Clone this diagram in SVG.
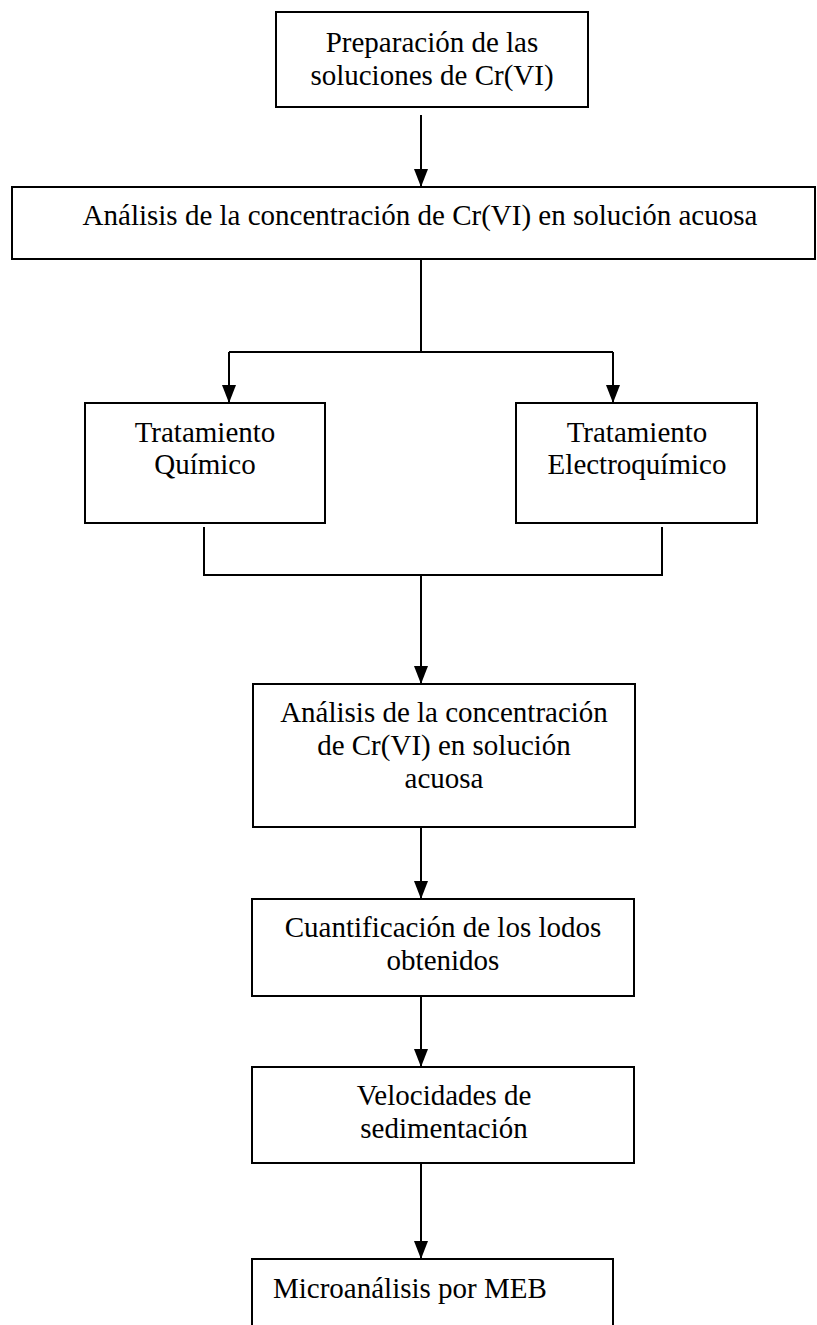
<svg xmlns="http://www.w3.org/2000/svg" width="817" height="1325" viewBox="0 0 817 1325">
<defs>
<marker id="ah" viewBox="0 0 18 14" refX="18" refY="7" markerWidth="18" markerHeight="14" markerUnits="userSpaceOnUse" orient="auto">
<path d="M0,0 L18,7 L0,14 z" fill="#000"/>
</marker>
<style>
.box{fill:#fff;stroke:#000;stroke-width:2}
.t{font-family:"Liberation Serif","Times New Roman",serif;font-size:29px;fill:#000}
.c{text-anchor:middle}
.ln{fill:none;stroke:#000;stroke-width:2}
</style>
</defs>
<rect width="817" height="1325" fill="#fff"/>
<g id="connectors">
<line class="ln" x1="421" y1="115" x2="421" y2="187" marker-end="url(#ah)"/>
<polyline class="ln" points="421,259 421,352"/>
<polyline class="ln" points="229,352 613,352"/>
<line class="ln" x1="229" y1="352" x2="229" y2="403" marker-end="url(#ah)"/>
<line class="ln" x1="613" y1="352" x2="613" y2="403" marker-end="url(#ah)"/>
<polyline class="ln" points="204,527 204,575 662,575 662,527"/>
<line class="ln" x1="421" y1="575" x2="421" y2="684" marker-end="url(#ah)"/>
<line class="ln" x1="421" y1="827" x2="421" y2="899" marker-end="url(#ah)"/>
<line class="ln" x1="421" y1="996" x2="421" y2="1067" marker-end="url(#ah)"/>
<line class="ln" x1="421" y1="1163" x2="421" y2="1259" marker-end="url(#ah)"/>
</g>
<g id="n1">
<rect class="box" x="276" y="12" width="312" height="95"/>
<text class="t c" x="432" y="52">Preparación de las</text>
<text class="t c" x="432" y="85">soluciones de Cr(VI)</text>
</g>
<g id="n2">
<rect class="box" x="12" y="187" width="803" height="72"/>
<text class="t c" x="420" y="225">Análisis de la concentración de Cr(VI) en solución acuosa</text>
</g>
<g id="n3">
<rect class="box" x="85" y="403" width="240" height="120"/>
<text class="t c" x="205" y="442">Tratamiento</text>
<text class="t c" x="205" y="474">Químico</text>
</g>
<g id="n4">
<rect class="box" x="516" y="403" width="241" height="120"/>
<text class="t c" x="637" y="442">Tratamiento</text>
<text class="t c" x="637" y="474">Electroquímico</text>
</g>
<g id="n5">
<rect class="box" x="253" y="684" width="382" height="143"/>
<text class="t c" x="444" y="722">Análisis de la concentración</text>
<text class="t c" x="444" y="755">de Cr(VI) en solución</text>
<text class="t c" x="444" y="788">acuosa</text>
</g>
<g id="n6">
<rect class="box" x="252" y="899" width="382" height="97"/>
<text class="t c" x="443" y="937">Cuantificación de los lodos</text>
<text class="t c" x="443" y="970">obtenidos</text>
</g>
<g id="n7">
<rect class="box" x="252" y="1067" width="382" height="96"/>
<text class="t c" x="444" y="1105">Velocidades de</text>
<text class="t c" x="444" y="1138">sedimentación</text>
</g>
<g id="n8">
<rect class="box" x="252" y="1259" width="361" height="80"/>
<text class="t" x="273" y="1298">Microanálisis por MEB</text>
</g>
</svg>
